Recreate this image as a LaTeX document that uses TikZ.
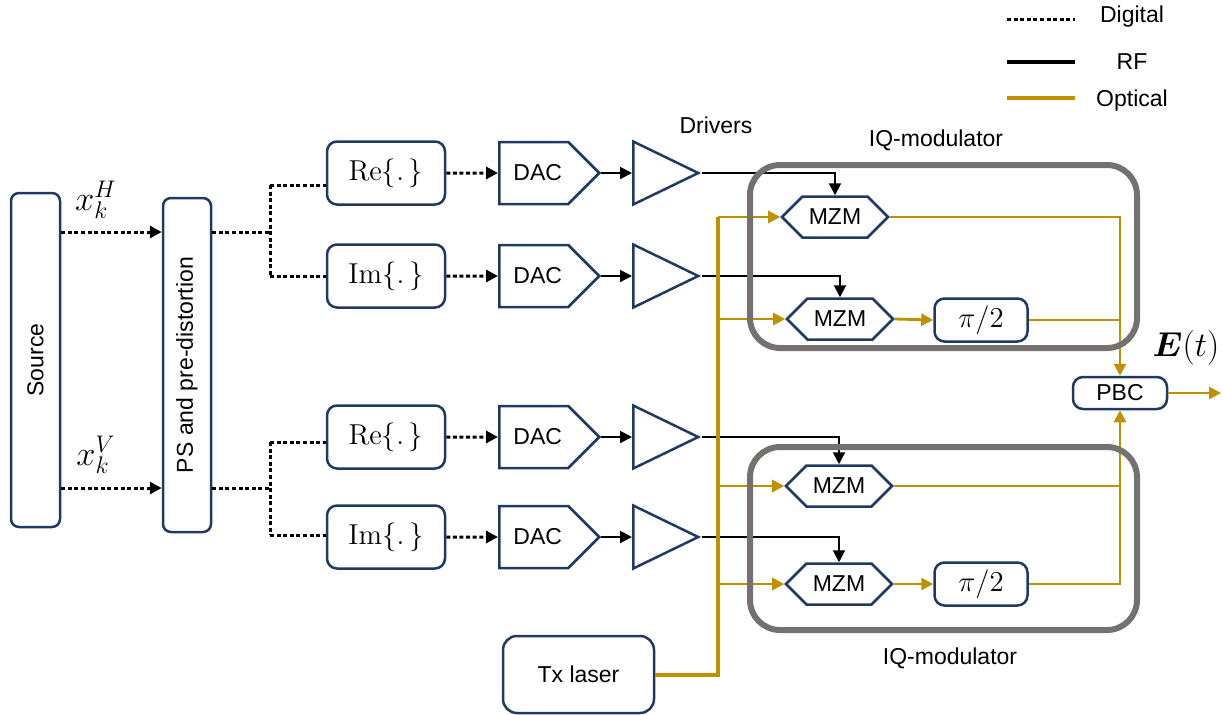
\documentclass[tikz,border=0pt]{standalone}
\usepackage[no-math]{fontspec}
\setmainfont{Liberation Sans}
\usepackage{bm}
\usetikzlibrary{arrows.meta,shapes.geometric,shapes.symbols,positioning}
\definecolor{boxblue}{HTML}{1F3864}
\definecolor{optgold}{HTML}{BF9000}
\definecolor{iqgray}{HTML}{767171}
\begin{document}
\begin{tikzpicture}[x=0.5pt,y=-0.5pt,
	every node/.style={font=\fontsize{11.5}{14}\selectfont},
	blk/.style={draw=boxblue,line width=1.25pt,rounded corners=5pt,inner sep=0pt},
	dacbox/.style={draw=boxblue,line width=1.25pt,signal,signal to=east,signal pointer angle=90,minimum width=50pt,minimum height=31pt,inner sep=0pt,anchor=west},
	ampbox/.style={draw=boxblue,line width=1.25pt,isosceles triangle,isosceles triangle stretches,minimum width=31.5pt,minimum height=32.5pt,inner sep=0pt,anchor=west},
	mzmbox/.style={draw=boxblue,line width=1.25pt,signal,signal to=east and west,signal pointer angle=90,minimum width=53pt,minimum height=20.5pt,inner sep=0pt},
	iqbox/.style={draw=iqgray,line width=3pt,rounded corners=15pt,inner sep=0pt},
	digital/.style={line width=1.5pt,dash pattern=on 2pt off 1.3pt},
	rf/.style={line width=1pt},
	optical/.style={optgold,line width=1.4pt},
	arr/.style={-{Triangle[length=6pt,width=6pt]}},
	]
	\newcommand{\mathbig}[1]{\fontsize{15}{18}\selectfont{#1}}
	\useasboundingbox (0,0) rectangle (1223,714);
	%Source and pre-distortion
	\node[blk,rounded corners=4pt,minimum width=24.5pt,minimum height=167pt] (src) at (35.5,360) {\rotatebox{90}{Source}};
	\node[blk,rounded corners=4pt,minimum width=24pt,minimum height=167pt] (ps) at (187,365) {\rotatebox{90}{PS and pre-distortion}};
	\coordinate (rowH) at (0,232);
	\coordinate (rowV) at (0,488);
	\draw[digital,arr] (src.east |- rowH) -- (ps.west |- rowH);
	\draw[digital,arr] (src.east |- rowV) -- (ps.west |- rowV);
	\node[font=\fontsize{17}{20}\selectfont] (xH) at (96,200) {$x_k^H$};
	\node[font=\fontsize{17}{20}\selectfont] (xV) at (96,455) {$x_k^V$};
	%Real and imaginary parts
	\node[blk,minimum width=59pt,minimum height=31.5pt] (reH) at (386,173) {\mathbig{$\mathrm{Re}\{.\,\}$}};
	\node[blk,minimum width=59pt,minimum height=31.5pt] (imH) at (386,276) {\mathbig{$\mathrm{Im}\{.\,\}$}};
	\node[blk,minimum width=59pt,minimum height=31.5pt] (reV) at (386,437) {\mathbig{$\mathrm{Re}\{.\,\}$}};
	\node[blk,minimum width=59pt,minimum height=31.5pt] (imV) at (386,537) {\mathbig{$\mathrm{Im}\{.\,\}$}};
	%Splitting of the digital lines
	\coordinate (brHre) at (270,185);
	\coordinate (brHim) at (270,276);
	\coordinate (brVre) at (270,442);
	\coordinate (brVim) at (270,535);
	\draw[digital] (ps.east |- rowH) -- (brHre |- rowH);
	\draw[digital] (ps.east |- rowV) -- (brVre |- rowV);
	\draw[digital] (brHre) -- (brHim);
	\draw[digital] (brVre) -- (brVim);
	\draw[digital] (brHre) -- (reH.west |- brHre);
	\draw[digital] (brHim) -- (imH.west |- brHim);
	\draw[digital] (brVre) -- (reV.west |- brVre);
	\draw[digital] (brVim) -- (imV.west |- brVim);
	%DACs and drivers
	\node[dacbox] (dac1) at (498,173) {\hspace{4pt}DAC};
	\node[dacbox] (dac2) at (498,276) {\hspace{4pt}DAC};
	\node[dacbox] (dac3) at (498,437) {\hspace{4pt}DAC};
	\node[dacbox] (dac4) at (498,537) {\hspace{4pt}DAC};
	\node[ampbox] (amp1) at (632,173) {};
	\node[ampbox] (amp2) at (632,276) {};
	\node[ampbox] (amp3) at (632,437) {};
	\node[ampbox] (amp4) at (632,537) {};
	\node (drv) at (716,125) {Drivers};
	\draw[digital,arr] (reH) -- (dac1);
	\draw[digital,arr] (imH) -- (dac2);
	\draw[digital,arr] (reV) -- (dac3);
	\draw[digital,arr] (imV) -- (dac4);
	\foreach \i in {1,...,4} {
		\draw[rf,arr] (dac\i.east) -- (amp\i.west);
	}
	%Modulators
	\node[mzmbox] (mzm1) at (835,217) {MZM};
	\node[mzmbox] (mzm2) at (840,319) {MZM};
	\node[mzmbox] (mzm3) at (839,486) {MZM};
	\node[mzmbox] (mzm4) at (839,584) {MZM};
	\node[blk,minimum width=46.5pt,minimum height=21.5pt] (pi1) at (981,320) {\fontsize{15}{17}\selectfont$\pi/2$};
	\node[blk,minimum width=46.5pt,minimum height=21.5pt] (pi2) at (981,584) {\fontsize{15}{17}\selectfont$\pi/2$};
	\node[blk,minimum width=47pt,minimum height=16pt] (pbc) at (1120,393) {PBC};
	\node[font=\fontsize{16}{18}\selectfont] (Et) at (1186,348) {$\bm{E}(t)$};
	\foreach \i in {1,...,4} {
		\draw[rf,arr] (amp\i.east) -| (mzm\i.north);
	}
	%Laser and optical paths
	\node[blk,rounded corners=7pt,minimum width=75.5pt,minimum height=38.5pt] (laser) at (578.5,674.5) {Tx laser};
	\coordinate (trunk) at (718,217);
	\draw[optical,line width=2pt] (laser.east) -| (trunk);
	\foreach \i in {1,...,4} {
		\draw[optical,arr] (trunk |- mzm\i.west) -- (mzm\i.west);
	}
	\draw[optical,arr] (mzm2.east) -- (pi1.west);
	\draw[optical,arr] (mzm4.east) -- (pi2.west);
	\draw[optical,arr] (mzm1.east) -| (pbc.north);
	\draw[optical] (pi1.east) -- (pi1.east -| pbc.north);
	\draw[optical,arr] (mzm3.east) -| (pbc.south);
	\draw[optical] (pi2.east) -| (mzm3.east -| pbc.south);
	\coordinate (out) at (1221,393);
	\draw[optical,arr] (pbc.east) -- (out);
	%IQ-modulator frames
	\node[iqbox,minimum width=193.5pt,minimum height=91.5pt] (iqH) at (943.5,256.5) {};
	\node[iqbox,minimum width=193.5pt,minimum height=91.5pt] (iqV) at (943.5,538.5) {};
	\node (iqHlbl) at (936,140) {IQ-modulator};
	\node (iqVlbl) at (950,658) {IQ-modulator};
	%Legend
	\coordinate (lgD0) at (1007,19);
	\coordinate (lgD1) at (1075,19);
	\coordinate (lgR0) at (1007,62);
	\coordinate (lgR1) at (1075,62);
	\coordinate (lgO0) at (1007,98);
	\coordinate (lgO1) at (1075,98);
	\draw[digital] (lgD0) -- (lgD1);
	\draw[rf,line width=2pt] (lgR0) -- (lgR1);
	\draw[optical,line width=2pt] (lgO0) -- (lgO1);
	\node (lgD) at (1132,17) {Digital};
	\node (lgR) at (1132,62) {RF};
	\node (lgO) at (1132,101) {Optical};
\end{tikzpicture}
\end{document}
